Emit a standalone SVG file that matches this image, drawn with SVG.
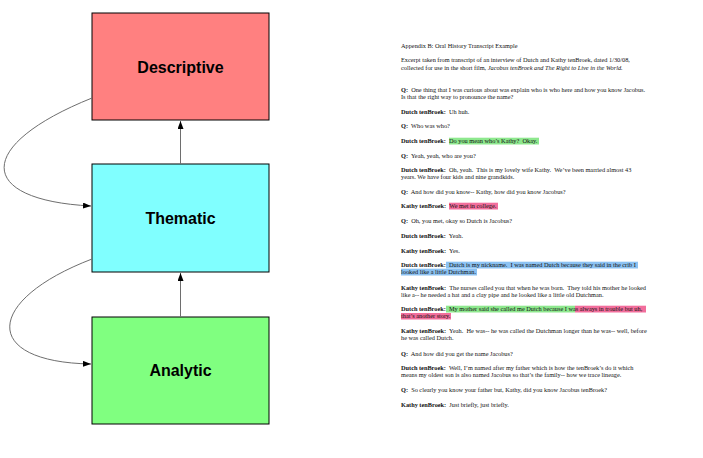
<svg xmlns="http://www.w3.org/2000/svg" width="703" height="458" viewBox="0 0 703 458">
<style>
.box{stroke:#000;stroke-width:1}
.lbl{font-family:"Liberation Sans",Arial,sans-serif;font-weight:bold;font-size:16px;fill:#000;text-anchor:middle;dominant-baseline:central}
.edge{fill:none;stroke:#6e6e6e;stroke-width:1}
.t{font-family:"Liberation Serif","Times New Roman",serif;font-size:6.3px;fill:#111;white-space:pre}
.b{font-weight:bold}
.i{font-style:italic}
.hg{fill:#8ee88e}
.hp{fill:#f26e9c}
.hb{fill:#8cc2f2}
</style>
<defs>
<marker id="ah" markerUnits="userSpaceOnUse" markerWidth="9" markerHeight="7" refX="8" refY="3" orient="auto">
<path d="M0,0 L8,3 L0,6 z" fill="#000"/>
</marker>
</defs>
<rect width="703" height="458" fill="#fff"/>
<g id="descriptive">
<rect class="box" x="92" y="13" width="177" height="107" fill="#ff8080"/>
<text class="lbl" x="180.5" y="67">Descriptive</text>
</g>
<g id="thematic">
<rect class="box" x="92" y="164" width="177" height="108" fill="#80ffff"/>
<text class="lbl" x="180.5" y="218">Thematic</text>
</g>
<g id="analytic">
<rect class="box" x="92" y="317" width="177" height="107" fill="#80ff80"/>
<text class="lbl" x="180.5" y="370.5">Analytic</text>
</g>
<g id="connectors">
<path class="edge" d="M180.5,164 L180.5,121" marker-end="url(#ah)"/>
<path class="edge" d="M180.5,317 L180.5,273" marker-end="url(#ah)"/>
<path class="edge" d="M92,98 C-25,145 -25,200 91,206" marker-end="url(#ah)"/>
<path class="edge" d="M92,259 C-15,300 -20,362 91,364" marker-end="url(#ah)"/>
</g>
<g id="transcript">
<rect class="hg" x="449" y="137.7" width="90" height="6.8"/>
<rect class="hp" x="449" y="202.7" width="49" height="6.8"/>
<rect class="hb" x="446" y="261.7" width="192" height="6.8"/>
<rect class="hb" x="401" y="268.7" width="76" height="6.8"/>
<rect class="hg" x="446" y="305.7" width="129" height="6.8"/>
<rect class="hp" x="575" y="305.7" width="71" height="6.8"/>
<rect class="hp" x="401" y="313" width="50" height="6.5"/>
<text class="t" x="401" y="48">Appendix B: Oral History Transcript Example</text>
<text class="t" x="401" y="62">Excerpt taken from transcript of an interview of Dutch and Kathy tenBroek, dated 1/30/08,</text>
<text class="t" x="401" y="69.5">collected for use in the short film, <tspan class="i">Jacobus tenBroek and The Right to Live in the World.</tspan></text>
<text class="t" x="401" y="91.5"><tspan class="b">Q:</tspan>  One thing that I was curious about was explain who is who here and how you know Jacobus.</text>
<text class="t" x="401" y="98.7">Is that the right way to pronounce the name?</text>
<text class="t" x="401" y="113.5"><tspan class="b">Dutch tenBroek:</tspan>  Uh huh.</text>
<text class="t" x="401" y="128"><tspan class="b">Q:</tspan>  Who was who?</text>
<text class="t" x="401" y="143"><tspan class="b">Dutch tenBroek:</tspan>  Do you mean who’s Kathy?  Okay.</text>
<text class="t" x="401" y="158"><tspan class="b">Q:</tspan>  Yeah, yeah, who are you?</text>
<text class="t" x="401" y="172"><tspan class="b">Dutch tenBroek:</tspan>  Oh, yeah.  This is my lovely wife Kathy.  We’ve been married almost 43</text>
<text class="t" x="401" y="179.3">years. We have four kids and nine grandkids.</text>
<text class="t" x="401" y="193.5"><tspan class="b">Q:</tspan>  And how did you know-- Kathy, how did you know Jacobus?</text>
<text class="t" x="401" y="208"><tspan class="b">Kathy tenBroek:</tspan>  We met in college.</text>
<text class="t" x="401" y="223"><tspan class="b">Q:</tspan>  Oh, you met, okay so Dutch is Jacobus?</text>
<text class="t" x="401" y="237.7"><tspan class="b">Dutch tenBroek:</tspan>  Yeah.</text>
<text class="t" x="401" y="252.5"><tspan class="b">Kathy tenBroek:</tspan>  Yes.</text>
<text class="t" x="401" y="267"><tspan class="b">Dutch tenBroek:</tspan>  Dutch is my nickname.  I was named Dutch because they said in the crib I</text>
<text class="t" x="401" y="274">looked like a little Dutchman.</text>
<text class="t" x="401" y="289.5"><tspan class="b">Kathy tenBroek:</tspan>  The nurses called you that when he was born.  They told his mother he looked</text>
<text class="t" x="401" y="296.5">like a-- he needed a hat and a clay pipe and he looked like a little old Dutchman.</text>
<text class="t" x="401" y="311"><tspan class="b">Dutch tenBroek:</tspan>  My mother said she called me Dutch because I was always in trouble but uh,</text>
<text class="t" x="401" y="318.3">that’s another story.</text>
<text class="t" x="401" y="333"><tspan class="b">Kathy tenBroek:</tspan>  Yeah.  He was-- he was called the Dutchman longer than he was-- well, before</text>
<text class="t" x="401" y="340">he was called Dutch.</text>
<text class="t" x="401" y="356"><tspan class="b">Q:</tspan>  And how did you get the name Jacobus?</text>
<text class="t" x="401" y="370"><tspan class="b">Dutch tenBroek:</tspan>  Well, I’m named after my father which is how the tenBroek’s do it which</text>
<text class="t" x="401" y="377">means my oldest son is also named Jacobus so that’s the family-- how we trace lineage.</text>
<text class="t" x="401" y="392"><tspan class="b">Q:</tspan>  So clearly you know your father but, Kathy, did you know Jacobus tenBroek?</text>
<text class="t" x="401" y="406.5"><tspan class="b">Kathy tenBroek:</tspan>  Just briefly, just briefly.</text>
</g>
</svg>
